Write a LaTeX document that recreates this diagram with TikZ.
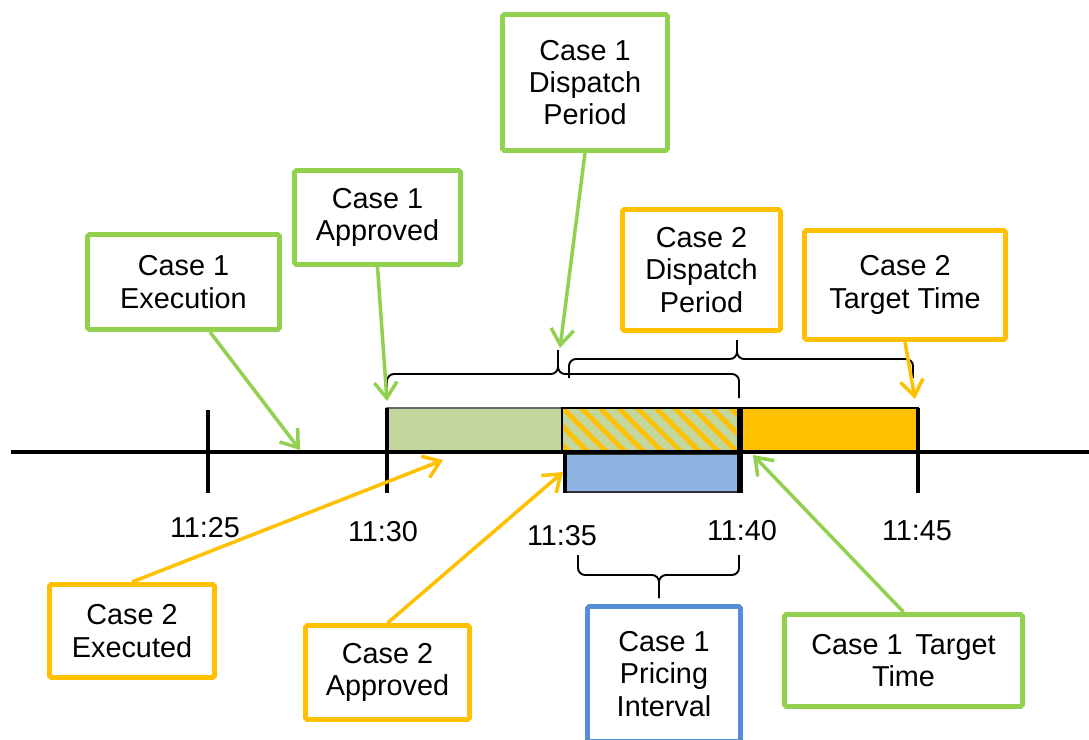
\documentclass[tikz,border=0pt]{standalone}
\usepackage{fontspec}
\setmainfont{Liberation Sans}
\usepackage{xcolor}
\definecolor{cGreen}{HTML}{92D050}
\definecolor{cOrange}{HTML}{FFC000}
\definecolor{cBlue}{HTML}{558ED5}
\definecolor{cGreenFill}{HTML}{C3D69B}
\definecolor{cBlueFill}{HTML}{8EB4E3}
\usepackage{tikz}
\usetikzlibrary{arrows.meta,patterns.meta}
\tikzset{
  box-case/.style={draw,line width=2.8pt,rounded corners=1pt,fill=white,
    align=center,inner sep=0pt},
  box-one/.style={box-case,draw=cGreen},
  box-two/.style={box-case,draw=cOrange},
  box-price/.style={box-case,draw=cBlue},
  arrow-one/.style={-{Straight Barb[length=9pt,width=13pt]},line width=2pt,draw=cGreen},
  arrow-two/.style={-{Straight Barb[length=9pt,width=13pt]},line width=2pt,draw=cOrange},
  curly/.style={draw=black,line width=1.1pt,rounded corners=4pt},
  axis-line/.style={line width=2.2pt,draw=black},
  tickmark/.style={line width=2.4pt,draw=black},
  bar-edge/.style={line width=0.8pt},
}

\begin{document}
\begin{tikzpicture}[x=0.2mm,y=-0.2mm,font=\fontsize{16.4}{18.4}\selectfont]
  \clip (0,0) rectangle (1089,740);

  % bars
  \filldraw[fill=cGreenFill,draw=black!60,bar-edge] (387,408) rectangle (562,451);
  \fill[cGreenFill] (562,408) rectangle (740,451);
  \fill[pattern={Lines[angle=-45,distance=7.5pt,line width=2.6pt]},pattern color=cOrange]
    (562,408) rectangle (740,451);
  \draw[bar-edge] (562,408) rectangle (740,451);
  \filldraw[fill=cOrange,draw=black,line width=1.1pt] (740,408) rectangle (918,451);
  \filldraw[fill=cBlueFill,draw=black!80,bar-edge] (565,454) rectangle (740,492);

  % time line
  \draw[axis-line] (11,452) -- (1089,452);
  \draw[tickmark] (208,410) -- (208,493);
  \draw[tickmark] (387,408) -- (387,493);
  \draw[tickmark] (565,452) -- (565,493);
  \draw[tickmark,line width=3pt] (740,408) -- (740,493);
  \draw[tickmark] (918,408) -- (918,493);

  \node (t1125) at (205,528) {11:25};
  \node (t1130) at (383,532) {11:30};
  \node (t1135) at (562,536) {11:35};
  \node (t1140) at (742,531) {11:40};
  \node (t1145) at (917,531) {11:45};

  % braces
  \draw[curly] (387,398) -- (387,374) -- (558,374) -- (558,350);
  \draw[curly] (558,350) -- (558,374) -- (739,374) -- (739,398);
  \draw[curly] (569,378) -- (569,359) -- (737,359) -- (737,340);
  \draw[curly] (737,340) -- (737,359) -- (913,359) -- (913,378);
  \draw[curly] (578,555) -- (578,575) -- (659,575) -- (659,598);
  \draw[curly] (659,598) -- (659,575) -- (739,575) -- (739,555);

  % labels
  \node[box-one,minimum width=38.4mm,minimum height=19mm] (exec1) at (183.5,282) {Case 1\\Execution};
  \node[box-one,minimum width=33.2mm,minimum height=18.8mm] (appr1) at (377.5,217.5) {Case 1\\Approved};
  \node[box-one,minimum width=33mm,minimum height=27.2mm] (disp1) at (585,82.5) {Case 1\\Dispatch\\Period};
  \node[box-two,minimum width=31.6mm,minimum height=24.2mm] (disp2) at (701.5,270) {Case 2\\Dispatch\\Period};
  \node[box-two,minimum width=40.2mm,minimum height=21.8mm] (targ2) at (905,285) {Case 2\\Target Time};
  \node[box-two,minimum width=33mm,minimum height=18.6mm] (exec2) at (132,631) {Case 2\\Executed};
  \node[box-two,minimum width=32.8mm,minimum height=18.8mm] (appr2) at (387.5,672.5) {Case 2\\Approved};
  \node[box-price,minimum width=30.6mm,minimum height=27mm] (price) at (664,674) {Case 1\\Pricing\\Interval};
  \node[box-one,minimum width=47.6mm,minimum height=18.4mm] (targ1) at (903.5,660.5) {Case 1~\,Target\\Time};

  % arrows
  \coordinate (tip-exec1) at (300,450);
  \coordinate (tip-appr1) at (387,401);
  \coordinate (tip-disp1) at (560,348);
  \coordinate (tip-targ2) at (915,399);
  \coordinate (tip-exec2) at (443,460);
  \coordinate (tip-appr2) at (563,472);
  \coordinate (tip-targ1) at (753,455);
  \draw[arrow-one] ([xshift=5.3mm]exec1.south) -- (tip-exec1);
  \draw[arrow-one] (appr1.south) -- (tip-appr1);
  \draw[arrow-one] (disp1.south) -- (tip-disp1);
  \draw[arrow-two] (targ2.south) -- (tip-targ2);
  \draw[arrow-two] (exec2.north) -- (tip-exec2);
  \draw[arrow-two] (appr2.north) -- (tip-appr2);
  \draw[arrow-one] (targ1.north) -- (tip-targ1);
\end{tikzpicture}
\end{document}
